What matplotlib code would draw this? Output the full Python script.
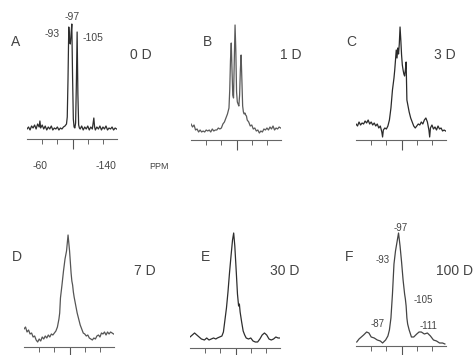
import matplotlib; matplotlib.use("Agg")
import matplotlib.pyplot as plt

plt.rcParams['font.family'] = ['Liberation Sans', 'DejaVu Sans']

# chemical shift (ppm) and intensity (arb. units)
ppm_a = [-40,-42,-44,-46,-48,-50,-52,-54,-56,-57,-58,-60,-62,-64,-66,-68,-70,-72,-74,-76,-78,-80,-82,-84,-86,-88,-90,-91,-92,-93,-94,-95,-96,-97,-98,-99,-100,-101,-102,-103,-104,-105,-106,-107,-108,-109,-110,-112,-114,-116,-118,-120,-122,-124,-126,-128,-129,-130,-132,-134,-136,-138,-140,-142,-144,-146,-148,-150,-152,-154,-156,-158]
int_a = [10,12,9,13,11,14,10,15,12,18,11,14,10,13,9,12,10,13,9,11,10,12,9,11,10,12,13,14,15,22,60,112,98,95,105,115,62,20,12,11,16,55,107,45,14,11,10,13,9,12,10,13,9,12,10,21,12,9,12,10,13,9,12,10,13,9,11,10,12,9,11,10]

ppm_b = [-40,-42,-44,-46,-48,-50,-52,-54,-56,-58,-60,-62,-64,-66,-68,-70,-72,-74,-76,-78,-80,-82,-84,-86,-88,-90,-91,-92,-93,-94,-95,-96,-97,-98,-99,-100,-101,-102,-103,-104,-105,-106,-107,-108,-109,-110,-111,-112,-113,-114,-116,-118,-120,-122,-124,-126,-128,-130,-132,-134,-136,-138,-140,-142,-144,-146,-148,-150,-152,-154,-156,-158]
int_b = [16,13,15,10,11,8,10,8,9,8,10,9,10,8,11,9,10,10,12,11,12,16,18,22,26,32,50,80,97,70,45,42,80,115,90,48,38,36,34,45,70,85,60,34,28,26,27,25,24,20,18,14,15,11,12,9,10,7,9,8,11,10,12,10,13,11,14,10,12,11,13,12]

ppm_c = [-40,-42,-44,-46,-48,-50,-52,-54,-56,-58,-60,-62,-64,-66,-68,-70,-72,-74,-75,-76,-78,-80,-82,-84,-86,-88,-90,-91,-92,-93,-94,-95,-96,-97,-98,-99,-100,-101,-102,-103,-104,-105,-106,-107,-108,-110,-112,-114,-116,-118,-120,-122,-124,-126,-128,-130,-132,-134,-136,-137,-138,-140,-142,-144,-146,-148,-150,-152,-154,-156,-158]
int_c = [16,14,18,15,17,16,19,17,20,16,18,15,17,14,16,12,14,8,3,10,12,11,14,20,32,50,62,70,80,90,82,92,86,96,113,100,85,75,70,66,64,70,78,40,36,28,22,18,14,12,14,16,15,18,16,20,22,18,10,3,12,15,11,13,10,14,11,12,9,10,9]

ppm_d = [-40,-42,-44,-46,-48,-50,-52,-54,-56,-58,-60,-62,-64,-66,-68,-70,-72,-74,-76,-78,-80,-82,-84,-86,-87,-88,-90,-92,-93,-94,-95,-96,-97,-98,-99,-100,-101,-102,-103,-104,-105,-106,-107,-108,-110,-112,-114,-116,-118,-120,-122,-124,-126,-128,-130,-132,-134,-136,-138,-140,-142,-144,-146,-148,-150,-152,-154,-156,-158]
int_d = [18,20,15,17,13,14,10,11,7,5,8,6,10,8,11,9,12,10,13,12,14,16,20,28,34,49,62,76,82,88,92,96,104,112,104,96,85,74,66,62,55,50,46,42,34,28,22,18,14,13,11,12,9,8,7,9,8,11,12,10,14,13,15,12,15,13,15,14,13]

ppm_e = [-40,-43,-46,-49,-52,-55,-59,-62,-65,-68,-71,-74,-76,-79,-82,-84,-86,-88,-90,-92,-94,-96,-97.5,-99,-101,-102.5,-104,-105,-106,-108,-110,-112,-114,-117,-120,-123,-126,-129,-132,-135,-138,-141,-144,-147,-150,-153,-156,-158]
int_e = [11,13,15,13,11,9,8,10,8,9,10,9,10,11,12,16,28,40,56,75,92,108,115,102,75,54,42,44,36,26,17,13,10,9,10,7,6,6,9,13,15,13,9,8,9,11,10,10]

ppm_f = [-41,-44,-47,-50,-54,-57,-60,-64,-68,-72,-75,-79,-82,-84,-86,-88,-90,-92,-94,-96,-98,-100,-102,-104,-105,-106,-107,-108,-110,-113,-116,-120,-123,-126,-130,-134,-138,-142,-146,-150,-154,-157]
int_f = [4,7,9,11,14,13,9,8,6,5,3,6,10,16,28,52,82,95,104,113,100,84,66,52,47,40,28,22,16,9,9,12,14,14,12,13,10,6,5,3,3,2]

spectra = [(ppm_a, int_a), (ppm_b, int_b), (ppm_c, int_c), (ppm_d, int_d), (ppm_e, int_e), (ppm_f, int_f)]
letters = ['A', 'B', 'C', 'D', 'E', 'F']
days = ['0 D', '1 D', '3 D', '7 D', '30 D', '100 D']
minor_ppm = [-60, -80, -120, -140]
major_ppm = [-100]

# peak assignments written on panels A and F
peaks_a = ['-93', '-97', '-105']
peaks_f = ['-87', '-93', '-97', '-105', '-111']

W, H = 476, 355
fig = plt.figure(figsize=(W/100, H/100), dpi=100)

def fx(x): return x / W
def fy(y): return 1 - y / H

# (left px, axis-line px) for each panel
boxes = [(27, 139), (191, 140), (356, 140), (24, 347), (190, 348), (356, 346)]
letter_xy = [(16, 42), (207, 42), (351, 42), (17, 257), (205, 257), (349, 257)]
day_xy = [(141, 55), (291, 55), (445, 55), (145, 271), (285, 271), (455, 271)]
trace_col = ['#2e2e2e', '#5a5a5a', '#2a2a2a', '#555555', '#2e2e2e', '#444444']

for i, (ppm, inten) in enumerate(spectra):
    left, base = boxes[i]
    ax = fig.add_axes([fx(left), fy(base), 90/W, 120/H])
    ax.plot(ppm, inten, color=trace_col[i], lw=0.9)
    ax.set_xlim(-40, -158.5); ax.set_ylim(0, 120)
    for s in ['top', 'right', 'left']: ax.spines[s].set_visible(False)
    ax.spines['bottom'].set_color('#666'); ax.spines['bottom'].set_linewidth(0.8)
    ax.set_yticks([])
    ax.set_xticks(major_ppm); ax.set_xticks(minor_ppm, minor=True)
    ax.tick_params(axis='x', which='major', length=7, width=0.8, color='#555', labelbottom=False)
    ax.tick_params(axis='x', which='minor', length=3.5, width=0.7, color='#666')
    ax.patch.set_alpha(0)
    fig.text(fx(letter_xy[i][0]), fy(letter_xy[i][1]), letters[i], ha='center', va='center', fontsize=10, color='#444')
    fig.text(fx(day_xy[i][0]), fy(day_xy[i][1]), days[i], ha='center', va='center', fontsize=10, color='#444')

# axis labels under panel A
fig.text(fx(40), fy(166), '-60', ha='center', va='center', fontsize=7.5, color='#444')
fig.text(fx(106), fy(166), '-140', ha='center', va='center', fontsize=7.5, color='#444')
fig.text(fx(159), fy(166), 'PPM', ha='center', va='center', fontsize=6.5, color='#444')

for lab, (x, y) in zip(peaks_a, [(52, 34), (72, 17), (93, 38)]):
    fig.text(fx(x), fy(y), lab, ha='center', va='center', fontsize=7.5, color='#444')
for lab, (x, y) in zip(peaks_f, [(378, 324), (383, 260), (401, 228), (423, 300), (428, 326)]):
    fig.text(fx(x), fy(y), lab, ha='center', va='center', fontsize=7, color='#444')

fig.savefig('out.png', dpi=100)
